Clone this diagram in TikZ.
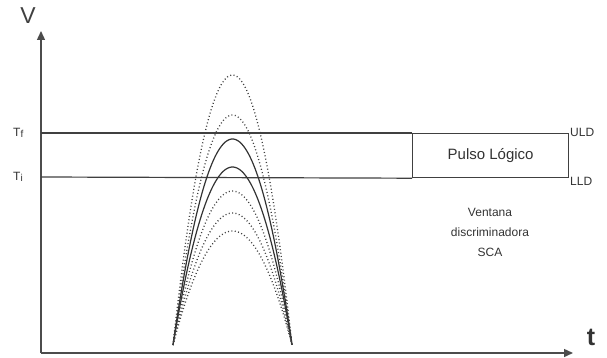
\documentclass[tikz,border=0pt]{standalone}
\usepackage{fontspec}
\setmainfont{Liberation Sans}
\usetikzlibrary{arrows.meta}
\begin{document}
\begin{tikzpicture}[x=1pt,y=-1pt,
  axis/.style={line width=1.4pt,draw=black!70,-{Triangle[length=9pt,width=8pt]}},
  level/.style={line width=1.2pt,draw=black!75},
  solidpulse/.style={line width=1.2pt,draw=black!80},
  dotpulse/.style={line width=1.3pt,draw=black!75,dash pattern=on 1pt off 2.4pt},
  lbl/.style={inner sep=0pt,font=\fontsize{12}{14}\selectfont,text=black!80}]
\useasboundingbox (0,0) rectangle (607,358);
% axes
\coordinate (O) at (41,353);
\coordinate (Ytop) at (41,31);
\coordinate (Xend) at (573,353);
\draw[axis] (O) -- (Ytop);
\draw[axis] (O) -- (Xend);
\node[inner sep=0pt,font=\fontsize{23}{25}\selectfont,text=black!75] (V) at (28,16) {V};
\node[inner sep=0pt,font=\fontsize{25}{27}\selectfont\bfseries,text=black!80] (t) at (591,337) {t};
% threshold lines and box
\coordinate (Lf) at (41,133);
\coordinate (Li) at (41,177);
\node[draw=black!75,line width=1.2pt,minimum width=156pt,minimum height=44pt,anchor=north west,inner sep=0pt,
      font=\fontsize{15}{17}\selectfont,text=black!80] (box) at (412,133) {Pulso Lógico};
\draw[level] (Lf) -- (box.north west);
\draw[level] (Li) -- (box.south west);
\node[lbl,anchor=west] (Tf) at (13,133) {T\raisebox{-0.5pt}{\fontsize{10}{10}\selectfont f}};
\node[lbl,anchor=west] (Ti) at (13,177) {T\raisebox{-0.5pt}{\fontsize{10}{10}\selectfont i}};
\node[lbl,anchor=west] (ULD) at (570,132) {ULD};
\node[lbl,anchor=west] (LLD) at (570,181) {LLD};
\node[align=center,inner sep=0pt,font=\fontsize{12}{20}\selectfont,text=black!80] (win) at (490,232)
  {Ventana\\discriminadora\\SCA};
% pulses: arches from x=173 to x=292, base y=345
\foreach \p/\s in {75/dotpulse,115/dotpulse,139/solidpulse,167/solidpulse,191/dotpulse,213/dotpulse,231/dotpulse}{
  \draw[\s] plot[domain=-1:1,samples=60,smooth] ({232.5+59.5*\x},{345-(345-\p)*(1-\x*\x)});
}
\end{tikzpicture}
\end{document}
